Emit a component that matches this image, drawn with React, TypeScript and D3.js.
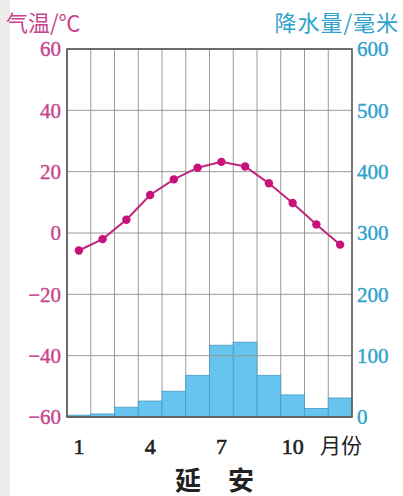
import * as d3 from "d3";

// monthly climate data, Yan'an
const months = [1, 2, 3, 4, 5, 6, 7, 8, 9, 10, 11, 12];
const temperature = [-5.7, -2.0, 4.3, 12.4, 17.5, 21.3, 23.2, 21.7, 16.2, 9.8, 2.8, -3.8];
const precipitation = [3, 5, 16, 26, 42, 68, 117, 122, 68, 36, 14, 31];
const tempTicks = [60, 40, 20, 0, -20, -40, -60];
const rainTicks = [600, 500, 400, 300, 200, 100, 0];
const monthLabels = [1, 4, 7, 10];

const W = 403;
const H = 496;
const margin = { top: 49, right: 51, bottom: 79, left: 67 };

const PINK = "#c8458e";
const BLUE = "#2fa2cc";
const serif = "Liberation Serif, DejaVu Serif, serif";
const cjk = "Noto Sans CJK SC, sans-serif";

export default function App() {
  const x = d3
    .scaleBand<number>()
    .domain(months)
    .range([margin.left, W - margin.right]);

  const yT = d3
    .scaleLinear()
    .domain([-60, 60])
    .range([H - margin.bottom, margin.top]);

  const yP = d3
    .scaleLinear()
    .domain([0, 600])
    .range([H - margin.bottom, margin.top]);

  const line = d3
    .line<number>()
    .x((_, i) => x(months[i])! + x.bandwidth() / 2)
    .y((d) => yT(d));

  const x0 = margin.left;
  const x1 = W - margin.right;
  const y0 = margin.top;
  const y1 = H - margin.bottom;

  return (
    <svg
      width={W}
      height={H}
      style={{ position: "absolute", left: 0, top: 0, background: "#fff" }}
    >
      {/* faint scan edge on the left */}
      <rect x={0} y={0} width={10} height={H} fill="#ecece8" />

      {/* vertical grid */}
      {months.map((m) => (
        <line
          key={"v" + m}
          x1={x(m)!}
          x2={x(m)!}
          y1={y0}
          y2={y1}
          stroke="#9a9a9a"
          strokeWidth={1}
        />
      ))}

      {/* precipitation bars */}
      {precipitation.map((p, i) => (
        <rect
          key={"b" + i}
          x={x(months[i])!}
          y={yP(p)}
          width={x.bandwidth()}
          height={yP(0) - yP(p)}
          fill="#66c4ee"
          stroke="#4a9cc0"
          strokeWidth={0.8}
        />
      ))}

      {/* horizontal grid */}
      {tempTicks.map((t) => (
        <line
          key={"h" + t}
          x1={x0}
          x2={x1}
          y1={yT(t)}
          y2={yT(t)}
          stroke="#9a9a9a"
          strokeWidth={1}
        />
      ))}

      {/* frame */}
      <rect
        x={x0}
        y={y0}
        width={x1 - x0}
        height={y1 - y0}
        fill="none"
        stroke="#555"
        strokeWidth={1.6}
      />

      {/* temperature line */}
      <path d={line(temperature)!} fill="none" stroke="#c0267c" strokeWidth={2} />
      {temperature.map((t, i) => (
        <circle
          key={"c" + i}
          cx={x(months[i])! + x.bandwidth() / 2}
          cy={yT(t)}
          r={4.2}
          fill="#c8127a"
        />
      ))}

      {/* left axis labels */}
      {tempTicks.map((t) => (
        <text
          key={"lt" + t}
          x={61}
          y={yT(t)}
          dy="0.35em"
          textAnchor="end"
          style={{ fontFamily: serif, fontSize: 21 }}
          fill={PINK}
          stroke={PINK}
          strokeWidth={0.4}
        >
          {t < 0 ? "\u2212" + Math.abs(t) : t}
        </text>
      ))}

      {/* right axis labels */}
      {rainTicks.map((t) => (
        <text
          key={"rt" + t}
          x={357}
          y={yP(t)}
          dy="0.35em"
          textAnchor="start"
          style={{ fontFamily: serif, fontSize: 21 }}
          fill={BLUE}
          stroke={BLUE}
          strokeWidth={0.4}
        >
          {t}
        </text>
      ))}

      {/* axis titles */}
      <text x={6} y={31} style={{ fontFamily: cjk, fontSize: 22 }} fill={PINK}>
        气温/℃
      </text>
      <text x={399} y={31} textAnchor="end" style={{ fontFamily: cjk, fontSize: 22, letterSpacing: 1 }} fill={BLUE}>
        降水量/毫米
      </text>

      {/* month labels */}
      {monthLabels.map((m) => (
        <text
          key={"m" + m}
          x={x(m)! + x.bandwidth() / 2}
          y={454}
          textAnchor="middle"
          style={{ fontFamily: serif, fontSize: 22 }}
          fill="#222"
          stroke="#222"
          strokeWidth={0.6}
        >
          {m}
        </text>
      ))}
      <text x={341} y={453} textAnchor="middle" style={{ fontFamily: cjk, fontSize: 21 }} fill="#222">
        月份
      </text>

      {/* station name */}
      <text x={188} y={490} textAnchor="middle" style={{ fontFamily: cjk, fontSize: 26, fontWeight: "bold" }} fill="#222">
        延
      </text>
      <text x={241} y={490} textAnchor="middle" style={{ fontFamily: cjk, fontSize: 26, fontWeight: "bold" }} fill="#222">
        安
      </text>
    </svg>
  );
}
